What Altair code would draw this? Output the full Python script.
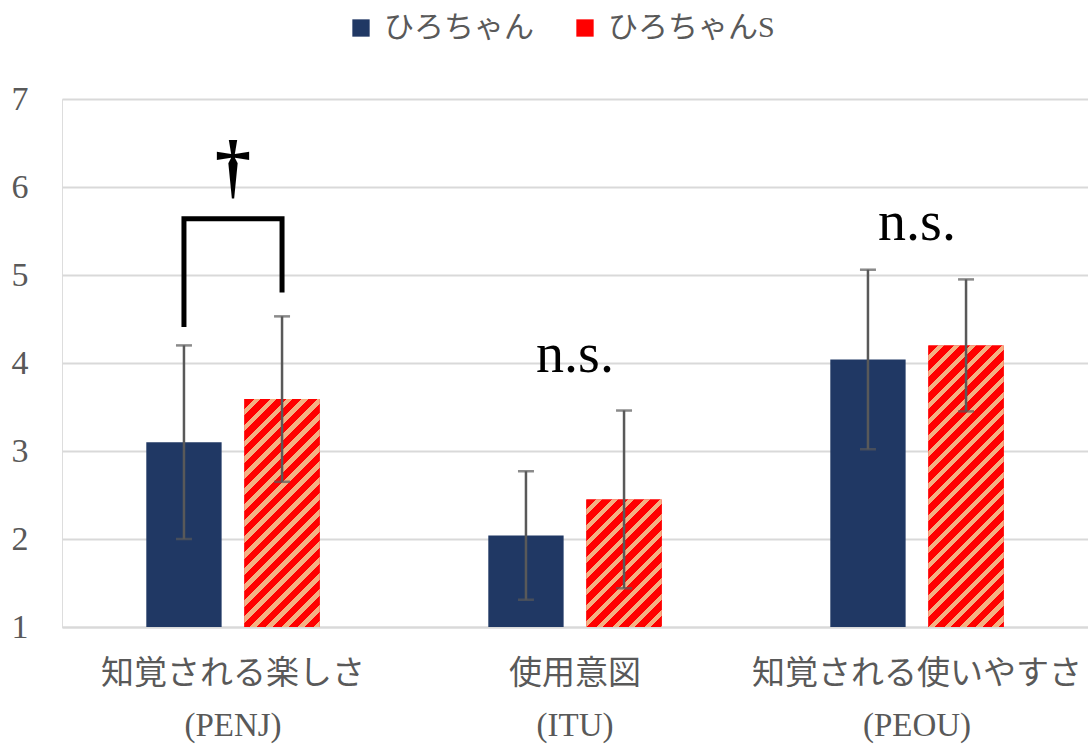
import math
import altair as alt
import pandas as pd

# ---- data ----
categories = ["知覚される楽しさ\n(PENJ)", "使用意図\n(ITU)", "知覚される使いやすさ\n(PEOU)"]
groups = ["ひろちゃん", "ひろちゃんS"]
mean_a = [3.10, 2.04, 4.04]
sd_a = [1.10, 0.73, 1.02]
mean_b = [3.59, 2.45, 4.20]
sd_b = [0.94, 1.01, 0.75]

# significance annotations
bracket_group = ["ひろちゃん", "ひろちゃん", "ひろちゃんS", "ひろちゃんS"]
bracket_y = [4.41, 5.64, 5.64, 4.80]
sig_cat = [categories[0], categories[1], categories[2]]
sig_text = ["†", "n.s.", "n.s."]
sig_y = [6.22, 3.90, 5.40]

NAVY = "#203864"
RED = "#FF0000"
ORANGE = "#F4B183"
GREY = "#595959"
SERIF = "Liberation Serif, Noto Sans CJK JP"

W, H = 1026, 528
Y0, Y1 = 1, 7

rows = []
for i, c in enumerate(categories):
    rows.append(dict(cat=c, grp=groups[0], mean=mean_a[i], lo=mean_a[i] - sd_a[i], hi=mean_a[i] + sd_a[i]))
    rows.append(dict(cat=c, grp=groups[1], mean=mean_b[i], lo=mean_b[i] - sd_b[i], hi=mean_b[i] + sd_b[i]))
df = pd.DataFrame(rows)

x_enc = alt.X("cat:N", sort=categories, title=None,
              scale=alt.Scale(paddingInner=0.493, paddingOuter=0.2465),
              axis=alt.Axis(labelExpr="split(datum.label, '\\n')", labelAngle=0,
                            labelFont=SERIF, labelFontSize=33, labelColor=GREY,
                            labelLineHeight=52, labelPadding=30, labelBaseline="top",
                            labelLimit=0,
                            ticks=False, domain=True, domainColor="#d9d9d9", domainWidth=2,
                            grid=False))
xo_enc = alt.XOffset("grp:N", sort=groups, scale=alt.Scale(paddingInner=0.232, paddingOuter=0))
y_enc = alt.Y("mean:Q", title=None,
              scale=alt.Scale(domain=[Y0, Y1], nice=False, zero=False),
              axis=alt.Axis(values=list(range(1, 8)), format="d", labelFont=SERIF,
                            labelFontSize=34, labelColor=GREY, labelPadding=34,
                            ticks=False, domain=False, gridColor="#d9d9d9", gridWidth=2))

base = alt.Chart(df)

bars = base.mark_bar().encode(
    x=x_enc, xOffset=xo_enc, y=y_enc, y2=alt.datum(Y0),
    color=alt.Color("grp:N", sort=groups, title=None,
                    scale=alt.Scale(domain=groups, range=[NAVY, RED]),
                    legend=alt.Legend(orient="none", legendX=284, legendY=-86,
                                      direction="horizontal", symbolType="square",
                                      symbolSize=300, symbolStrokeWidth=0,
                                      labelFont=SERIF, labelFontSize=30, labelColor=GREY,
                                      labelOffset=8, columnPadding=36, labelLimit=0)),
)

# hatched overlays (diagonal stripes via hard-stop gradients)
step = W / 3
band = step * (1 - 0.493)
bar_w = band / (2 - 0.232) * (1 - 0.232)
period = 11.3
layers = [bars]
for i, c in enumerate(categories):
    bh = (mean_b[i] - Y0) / (Y1 - Y0) * H
    k = (bar_w + bh) / (bar_w ** 2 + bh ** 2)
    n = (bar_w + bh) / math.sqrt(2) / period
    stops = []
    j = 0
    while j / n < 1:
        a = j / n
        b = min(1.0, (j + 0.6) / n)
        e = min(1.0, (j + 1) / n)
        stops += [dict(offset=a, color=RED), dict(offset=b, color=RED)]
        if b < 1:
            stops += [dict(offset=b, color=ORANGE), dict(offset=e, color=ORANGE)]
        j += 1
    grad = dict(gradient="linear", x1=0, y1=0, x2=k * bar_w, y2=k * bh, stops=stops)
    layers.append(
        base.transform_filter((alt.datum.grp == groups[1]) & (alt.datum.cat == c))
        .mark_bar(fill=grad)
        .encode(x=x_enc, xOffset=xo_enc, y=y_enc, y2=alt.datum(Y0))
    )

err = base.mark_rule(color=GREY, strokeWidth=2.5).encode(
    x=x_enc, xOffset=xo_enc, y="lo:Q", y2="hi:Q")
cap_lo = base.mark_tick(color=GREY, thickness=2.5, size=16).encode(
    x=x_enc, xOffset=xo_enc, y="lo:Q")
cap_hi = base.mark_tick(color=GREY, thickness=2.5, size=16).encode(
    x=x_enc, xOffset=xo_enc, y="hi:Q")
layers += [err, cap_lo, cap_hi]

bdf = pd.DataFrame(dict(cat=[categories[0]] * 4, grp=bracket_group, mean=bracket_y,
                        idx=list(range(4))))
bracket = alt.Chart(bdf).mark_line(color="black", strokeWidth=5, strokeJoin="miter",
                                   strokeCap="butt").encode(
    x=x_enc, xOffset=xo_enc, y=y_enc, order="idx:Q")

sdf = pd.DataFrame(dict(cat=sig_cat, txt=sig_text, mean=sig_y))
sig_dagger = alt.Chart(sdf[sdf.txt == "†"]).mark_text(
    font=SERIF, color="black", baseline="middle", fontSize=72, fontWeight="bold").encode(
    x=x_enc, y=y_enc, text="txt:N")
sig_ns = alt.Chart(sdf[sdf.txt != "†"]).mark_text(
    font=SERIF, color="black", baseline="alphabetic", fontSize=56).encode(
    x=x_enc, y=y_enc, text="txt:N")
layers += [bracket, sig_dagger, sig_ns]

chart = alt.layer(*layers).properties(
    width=W, height=H,
    autosize=alt.AutoSizeParams(type="none"),
    padding={"left": 62, "top": 99, "right": 0, "bottom": 117},
).configure_view(stroke=None).configure(background="white")

chart.save("out.html", embed_options={"renderer": "svg", "actions": False})
